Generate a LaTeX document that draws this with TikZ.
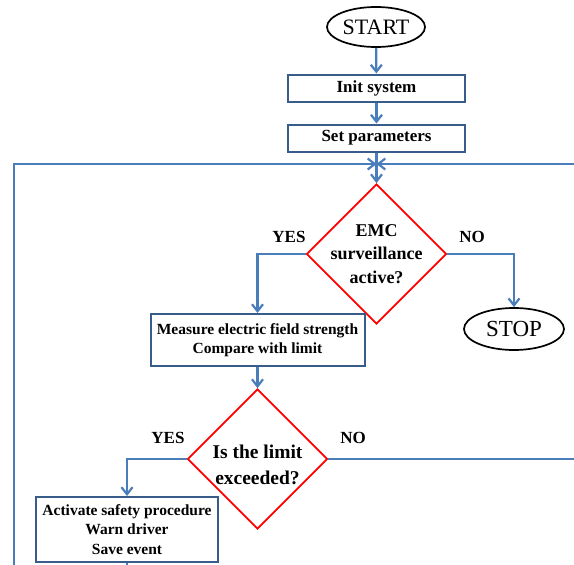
\documentclass[tikz,border=0pt]{standalone}
\usepackage{fontspec}
\setmainfont{Liberation Serif}
\usetikzlibrary{shapes.geometric,arrows.meta}
\definecolor{lblue}{HTML}{4A7EBB}
\definecolor{bdark}{HTML}{385D8A}
\definecolor{dred}{HTML}{FF0000}
\begin{document}
\begin{tikzpicture}[x=1pt,y=-1pt,
  flow/.style={draw=lblue, line width=2.2pt},
  arr/.style={flow, -{Straight Barb[length=7pt,width=11pt]}},
  procbox/.style={draw=bdark, line width=2pt, fill=white, align=center, inner sep=0pt,
     font=\bfseries\fontsize{15.5}{19.5}\selectfont},
  bigbox/.style={procbox, font=\bfseries\fontsize{17}{20}\selectfont, minimum width=177pt, minimum height=27pt},
  decision/.style={diamond, draw=dred, line width=1.8pt, inner sep=0pt, minimum width=140pt, minimum height=140pt},
  term/.style={ellipse, draw=black, line width=1.7pt, inner sep=0pt, font=\fontsize{22}{24}\selectfont},
  lbl/.style={font=\bfseries\fontsize{17}{20}\selectfont, inner sep=0pt}]
\useasboundingbox (0,0) rectangle (574,565);
\fill[white] (0,0) rectangle (574,565);
% nodes
\node[term, minimum width=98pt, minimum height=40pt] (start) at (376,27) {START};
\node[bigbox] (init) at (376.5,88) {Init system};
\node[bigbox] (setp) at (376.5,138) {Set parameters};
\coordinate (j) at (376.5,164);
\coordinate (lb) at (14,567);
\coordinate (rt) at (576,164);
\node[decision] (d1) at (376.5,254) {};
\node[align=center, font=\bfseries\fontsize{18}{23.5}\selectfont, inner sep=0pt] (d1t) at (376.5,254) {EMC\\surveillance\\active?};
\node[procbox, minimum width=214pt, minimum height=52pt] (meas) at (257.5,340) {Measure electric field strength\\Compare with limit};
\node[term, minimum width=100pt, minimum height=42pt, font=\fontsize{23}{25}\selectfont] (stop) at (514,329) {STOP};
\node[decision] (d2) at (257.5,459) {};
\node[align=center, font=\bfseries\fontsize{19.5}{26}\selectfont, inner sep=0pt] (d2t) at (257.5,465) {Is the limit\\exceeded?};
\coordinate (rt2) at (576,459);
\node[procbox, minimum width=182pt, minimum height=65pt] (act) at (127,529.5) {Activate safety procedure\\Warn driver\\Save event};
\coordinate (ab) at (127,567);
% labels
\node[lbl] (y1) at (289,237) {YES};
\node[lbl] (n1) at (472,237) {NO};
\node[lbl] (y2) at (168,438) {YES};
\node[lbl] (n2) at (353,438) {NO};
% connectors
\draw[arr] (start) -- (init);
\draw[arr] (init) -- (setp);
\draw[arr] (setp) -- (d1.north);
\draw[arr] (lb) |- (j);
\draw[arr] (rt) -- (j);
\draw[arr] (d1.west) -| (meas.north);
\draw[arr] (d1.east) -| (stop.north);
\draw[arr] (meas) -- (d2.north);
\draw[arr] (d2.west) -| (act.north);
\draw[flow] (d2.east) -- (rt2);
\draw[flow] (act.south) -- (ab);
\end{tikzpicture}
\end{document}
